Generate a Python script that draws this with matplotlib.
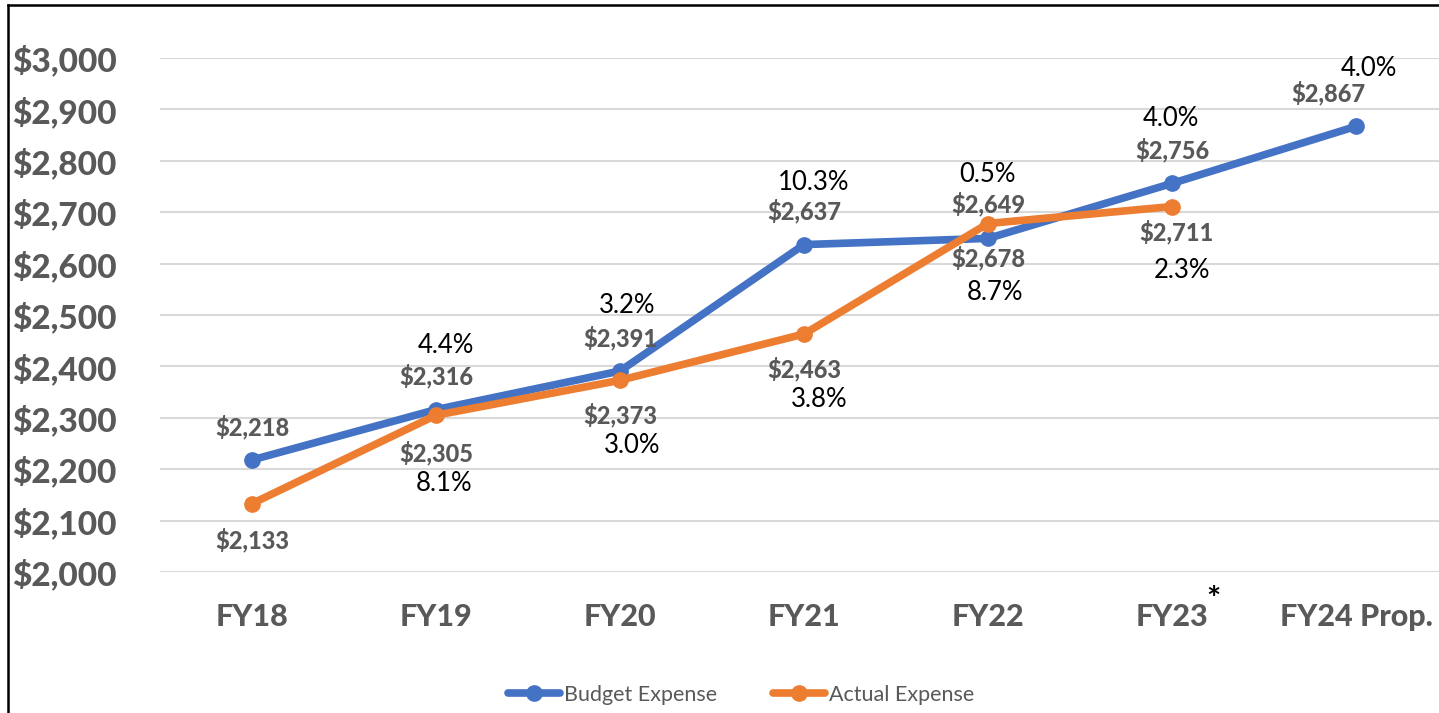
import matplotlib.pyplot as plt
from matplotlib.lines import Line2D
import matplotlib.transforms as mtransforms

plt.rcParams['font.family'] = ['Lato', 'DejaVu Sans']

# data
years = ["FY18", "FY19", "FY20", "FY21", "FY22", "FY23", "FY24 Prop."]
budget = [2218, 2316, 2391, 2637, 2649, 2756, 2867]
actual = [2133, 2305, 2373, 2463, 2678, 2711]
budget_pct = ["", "4.4%", "3.2%", "10.3%", "0.5%", "4.0%", "4.0%"]
actual_pct = ["", "8.1%", "3.0%", "3.8%", "8.7%", "2.3%"]

blue = "#4472C4"
orange = "#ED7D31"
grey = "#595959"

fig = plt.figure(figsize=(14.39, 7.13), dpi=100)
ax = fig.add_axes([160/1439, 1-572/713, (1448-160)/1439, (572-58)/713])

x = list(range(len(years)))
ax.plot(x, budget, color=blue, lw=5.5, marker="o", ms=11, label="Budget Expense",
        solid_capstyle="round", zorder=3)
ax.plot(x[:len(actual)], actual, color=orange, lw=5.5, marker="o", ms=11,
        label="Actual Expense", solid_capstyle="round", zorder=3)

ax.set_xlim(-0.5, len(years) - 0.5)
ax.set_ylim(2000, 3000)
ax.set_yticks(range(2000, 3001, 100))
ax.set_yticklabels(["${:,}".format(v) for v in range(2000, 3001, 100)])
ax.set_xticks(x)
ax.set_xticklabels(years)
for s in ax.spines.values():
    s.set_visible(False)
ax.grid(axis="y", color="#D9D9D9", lw=1.5)
ax.set_axisbelow(True)
ax.tick_params(axis="both", length=0, colors=grey)
ax.tick_params(axis="y", pad=31, labelsize=24)
ax.tick_params(axis="x", pad=22, labelsize=22)
for lab in ax.get_xticklabels() + ax.get_yticklabels():
    lab.set_fontweight("black")

# asterisk on FY23
trans = mtransforms.blended_transform_factory(ax.transData, ax.transAxes)
ax.text(5.225, -0.055, "*", transform=trans, fontsize=24, fontweight="bold",
        color="black", ha="center", va="center")

# budget labels (value above, pct above that)
bud_off = [(0, 24), (0, 24), (0, 24), (0, 24), (0, 25), (0, 24), (-20, 24)]
bud_pct_off = [(0, 0), (7, 46), (5, 47), (7, 45), (0, 46), (-1, 47), (9, 42)]
for i, v in enumerate(budget):
    ax.annotate("${:,}".format(v), (i, v), xytext=bud_off[i], textcoords="offset points",
                ha="center", va="center", fontsize=17, fontweight="black", color=grey)
    if budget_pct[i]:
        ax.annotate(budget_pct[i], (i, v), xytext=bud_pct_off[i], textcoords="offset points",
                    ha="center", va="center", fontsize=18.5, color="black")

act_off = [(0, -26), (0, -27), (0, -25), (0, -25), (0, -25), (3, -18)]
act_pct_off = [(0, 0), (6, -49), (9, -47), (11, -47), (5, -50), (7, -46)]
for i, v in enumerate(actual):
    ax.annotate("${:,}".format(v), (i, v), xytext=act_off[i], textcoords="offset points",
                ha="center", va="center", fontsize=17, fontweight="black", color=grey)
    if actual_pct[i]:
        ax.annotate(actual_pct[i], (i, v), xytext=act_pct_off[i], textcoords="offset points",
                    ha="center", va="center", fontsize=18.5, color="black")

leg = fig.legend(loc="center", bbox_to_anchor=(0.515, 1-695/713), ncol=2, frameon=False,
                 fontsize=15.5, handlelength=2.4, handletextpad=0.2, columnspacing=2.6)
for t in leg.get_texts():
    t.set_color(grey)

# outer frame (top and left edges)
fig.add_artist(Line2D([8/1439, 1], [1-5/713, 1-5/713], color="black", lw=1.8,
                      transform=fig.transFigure))
fig.add_artist(Line2D([8/1439, 8/1439], [0, 1-5/713], color="black", lw=1.8,
                      transform=fig.transFigure))

fig.savefig("out.png", dpi=100)
